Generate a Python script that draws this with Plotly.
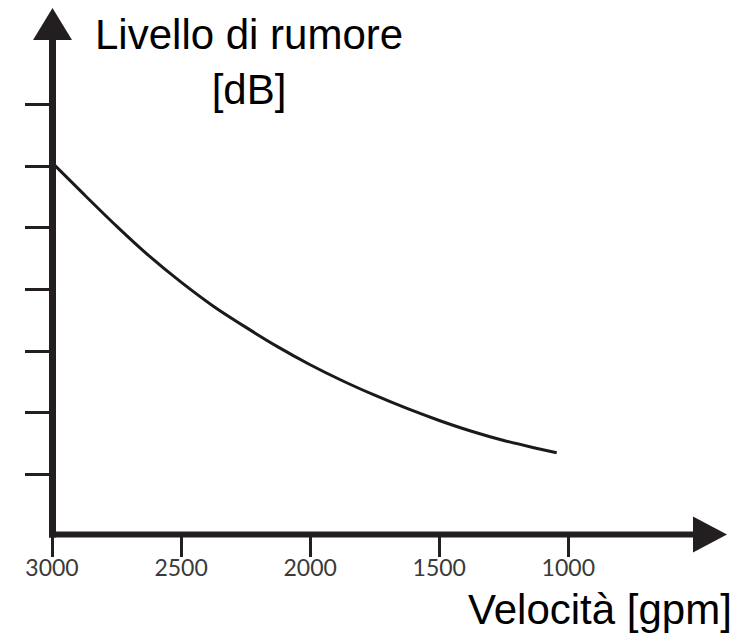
import plotly.graph_objects as go

# ---- data ----
velocita_gpm = [3000, 2875, 2750, 2625, 2500, 2375, 2250, 2125, 2000,
                1875, 1750, 1625, 1500, 1375, 1250, 1125, 1045]
livello_rumore = [6.06, 5.54, 5.03, 4.55, 4.12, 3.73, 3.39, 3.07, 2.78,
                  2.52, 2.285, 2.07, 1.875, 1.70, 1.55, 1.425, 1.35]
x_tick_vals = [3000, 2500, 2000, 1500, 1000]
x_tick_text = ["3000", "2500", "2000", "1500", "1000"]
y_tick_vals = [1, 2, 3, 4, 5, 6, 7]
y_title = "Livello di rumore<br>[dB]"
x_title = "Velocità [gpm]"

# ---- layout geometry (pixels) ----
W, H = 751, 640
ML, MR, MT, MB = 52, 24, 8, 103.5
PW, PH = W - ML - MR, H - MT - MB

def px(xp):
    return (xp - ML) / PW

def py(yp):
    return (H - MB - yp) / PH

INK = "#231f20"

fig = go.Figure()
fig.add_trace(go.Scatter(
    x=velocita_gpm, y=livello_rumore, mode="lines",
    line=dict(color="#1a1a1a", width=3, shape="spline", smoothing=0.8),
    hoverinfo="skip", showlegend=False,
))

shapes = [
    # y axis line
    dict(type="line", xref="paper", yref="paper", x0=px(52.5), x1=px(52.5),
         y0=py(538), y1=py(38), line=dict(color=INK, width=7), layer="above"),
    # x axis line
    dict(type="line", xref="paper", yref="paper", x0=px(49), x1=px(697),
         y0=py(535), y1=py(535), line=dict(color=INK, width=6), layer="above"),
    # y arrow head
    dict(type="path", xref="paper", yref="paper",
         path=f"M {px(52.5)} {py(8)} L {px(33)} {py(40)} L {px(72)} {py(40)} Z",
         fillcolor=INK, line=dict(color=INK, width=0), layer="above"),
    # x arrow head
    dict(type="path", xref="paper", yref="paper",
         path=f"M {px(727)} {py(535)} L {px(693)} {py(517)} L {px(693)} {py(553)} Z",
         fillcolor=INK, line=dict(color=INK, width=0), layer="above"),
]

annotations = [
    dict(text=y_title, xref="paper", yref="paper", x=px(249.5), y=py(62),
         xanchor="center", yanchor="middle", align="center", showarrow=False,
         font=dict(family="Liberation Sans, Arial", size=42, color="#000")),
    dict(text=x_title, xref="paper", yref="paper", x=px(734), y=py(610),
         xanchor="right", yanchor="middle", showarrow=False,
         font=dict(family="Liberation Sans, Arial", size=42, color="#000")),
]

fig.update_layout(
    width=W, height=H,
    margin=dict(l=ML, r=MR, t=MT, b=MB, pad=0),
    paper_bgcolor="white", plot_bgcolor="white",
    shapes=shapes, annotations=annotations,
    xaxis=dict(range=[3000, 3000 - PW / 0.25815], showgrid=False, zeroline=False,
               showline=False, ticks="outside", ticklen=20, tickwidth=3,
               tickcolor=INK, tickvals=x_tick_vals, ticktext=x_tick_text,
               ticklabelstandoff=-9,
               tickfont=dict(family="Lato", size=23, color="#3a3a3a"),
               fixedrange=True),
    yaxis=dict(range=[0, (H - MB - MT) / 61.67], showgrid=False, zeroline=False,
               showline=False, ticks="outside", ticklen=26, tickwidth=3,
               tickcolor=INK, tickvals=y_tick_vals, showticklabels=False,
               fixedrange=True),
)

fig.write_html("out.html", config={"displayModeBar": False},
               post_script="document.body.style.margin='0px';document.body.style.overflow='hidden';")
